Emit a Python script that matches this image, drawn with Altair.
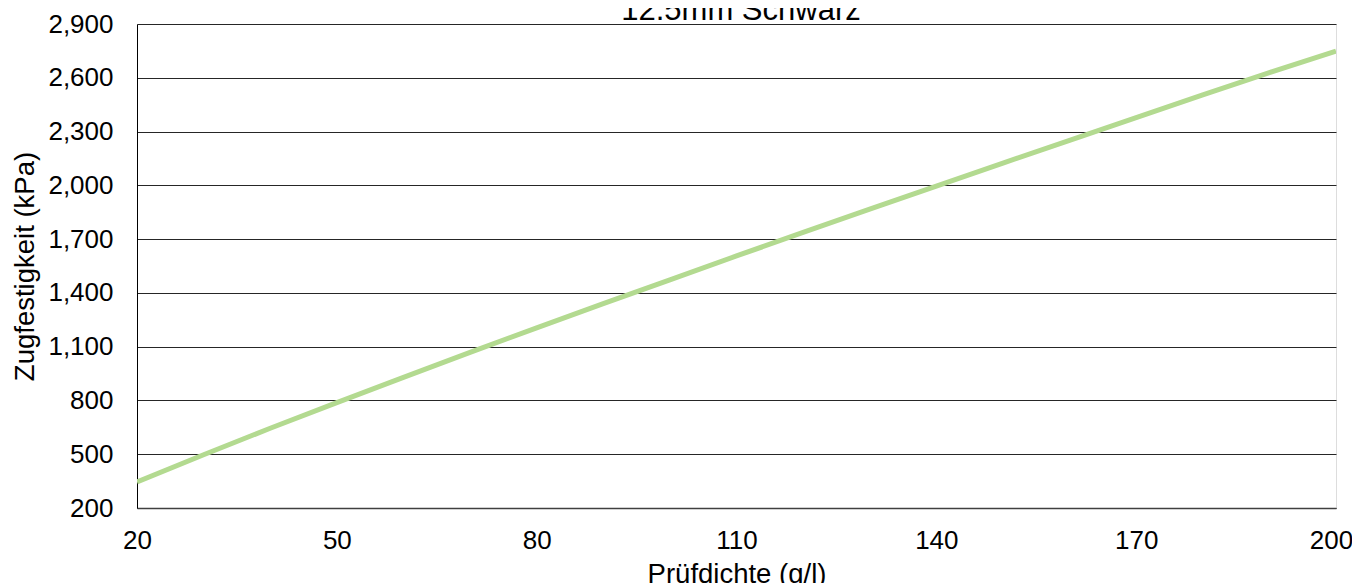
import altair as alt
import pandas as pd

# Values
dichte = [20, 30, 40, 50, 60, 70, 80, 90, 100, 110, 120, 130, 140, 150, 160, 170, 180, 190, 200]
zugfestigkeit = [345, 497, 645, 788, 929, 1068, 1205, 1340, 1473, 1606, 1737, 1867, 1996, 2124, 2251, 2378, 2504, 2629, 2748]
x_ticks = [20, 50, 80, 110, 140, 170, 200]
y_ticks = [200, 500, 800, 1100, 1400, 1700, 2000, 2300, 2600, 2900]
title_text = ["12.5mm Schwarz"]

df = pd.DataFrame({"x": dichte, "y": zugfestigkeit})
tdf = pd.DataFrame({"t": title_text})

FONT = "Liberation Sans"
FS = 26
TFS = 27.5

line = alt.Chart(df).mark_line(color="#B3DA90", strokeWidth=5, clip=True).encode(
    x=alt.X("x:Q", scale=alt.Scale(domain=[20, 200], nice=False, zero=False),
            axis=alt.Axis(values=x_ticks, title="Prüfdichte (g/l)", ticks=False,
                          labelPadding=19, grid=False, domainColor="#404040",
                          domainWidth=1.5, labelFontSize=FS, labelFont=FONT,
                          labelColor="black", titleFont=FONT, titleFontSize=TFS,
                          titleFontWeight="normal", titleColor="black",
                          titleBaseline="alphabetic", titleY=74,
                          labelFlush=False,
                          labelOffset={"condition": {"test": "datum.value == 200", "value": -5},
                                       "value": 0})),
    y=alt.Y("y:Q", scale=alt.Scale(domain=[200, 2900], nice=False, zero=False),
            axis=alt.Axis(values=y_ticks, format=",d", title="Zugfestigkeit (kPa)",
                          ticks=False, labelPadding=24, grid=True, gridColor="#262626",
                          gridWidth=1, domainColor="black", labelFontSize=FS,
                          labelFont=FONT, labelColor="black", titleFont=FONT,
                          titleFontSize=TFS, titleFontWeight="normal",
                          titleColor="black", titleBaseline="alphabetic",
                          titleX=-104, labelFlush=False)),
)

title = alt.Chart(tdf).mark_text(
    font=FONT, fontSize=31, color="black", align="center", baseline="alphabetic"
).encode(text="t:N", x=alt.value(604), y=alt.value(-4))

chart = alt.layer(line, title).properties(
    width=1199, height=484,
    autosize=alt.AutoSizeParams(type="none"),
    padding={"left": 129, "top": 16, "right": 16, "bottom": 75},
).configure_view(stroke="#404040", strokeWidth=1).configure(background="white")

chart.save("out.html", embed_options={"renderer": "svg", "actions": False})
